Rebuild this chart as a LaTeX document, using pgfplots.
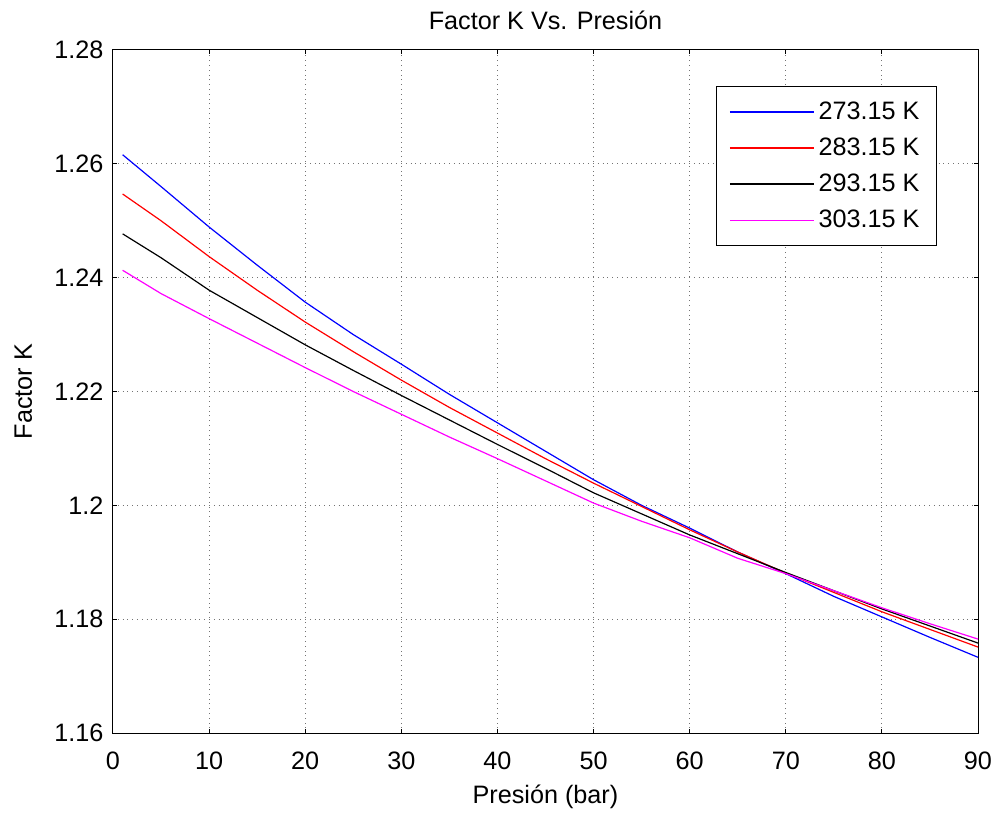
\documentclass[border=0pt]{standalone}
\usepackage{pgfplots}
\pgfplotsset{compat=1.18}
\usepackage{fontspec}
\setmainfont{Liberation Sans}
\definecolor{mblue}{RGB}{0,0,255}
\definecolor{mred}{RGB}{255,0,0}
\definecolor{mmag}{RGB}{255,0,255}
\begin{document}
\begin{tikzpicture}
\begin{axis}[
  scale only axis,
  width=432.5pt, height=341.5pt,
  xmin=0, xmax=90, ymin=1.16, ymax=1.28,
  xtick={0,10,...,90},
  ytick={1.16,1.18,1.2,1.22,1.24,1.26,1.28},
  scaled y ticks=false,
  yticklabel style={/pgf/number format/fixed, /pgf/number format/precision=2, xshift=-1.3pt},
  xticklabel style={anchor=base, yshift=-18pt},
  /pgf/number format/assume math mode=true,
  tick label style={font=\fontsize{12.6}{14}\selectfont, black},
  tick align=inside,
  major tick length=2pt,
  tick style={black, line width=0.5pt},
  axis line style={black, line width=0.5pt},
  grid=major,
  major grid style={black!55, dotted, line width=0.5pt},
  every axis title shift=0pt,
  title={Factor K Vs. Presión},
  title style={font=\fontsize{12.6}{14}\selectfont, at={(axis description cs:0.5,1)}, yshift=10pt, anchor=base},
  xlabel={Presión (bar)},
  xlabel style={font=\fontsize{12.6}{14}\selectfont, at={(axis description cs:0.5,0)}, yshift=-35pt, anchor=base},
  ylabel={Factor K},
  ylabel style={font=\fontsize{12.6}{14}\selectfont, at={(axis description cs:0,0.5)}, yshift=40.5pt, anchor=base},
  legend style={at={(1,1)}, anchor=north east, xshift=-20.5pt, yshift=-18pt,
    font=\fontsize{12.6}{14}\selectfont, draw=black, line width=0.5pt,
    row sep=3.8pt, inner xsep=6.5pt, inner ysep=5.5pt, cells={anchor=west}},
  legend image code/.code={\draw[#1, line width=0.8pt] (0cm,0cm) -- (42pt,0cm);},
  every axis plot/.append style={line width=0.6pt},
]
\addplot[mblue] coordinates {
(1,1.2616) (5,1.2560) (10,1.2489) (15,1.2422) (20,1.2357) (25,1.2300) (30,1.2248)
(35,1.2195) (40,1.2145) (45,1.2095) (50,1.2045) (55,1.2000) (60,1.1960) (65,1.1918)
(70,1.1880) (75,1.1840) (80,1.1804) (85,1.1768) (90,1.1733)};
\addlegendentry{273.15 K}
\addplot[mred] coordinates {
(1,1.2547) (5,1.2500) (10,1.2437) (15,1.2378) (20,1.2322) (25,1.2270) (30,1.2220)
(35,1.2172) (40,1.2127) (45,1.2082) (50,1.2039) (55,1.1998) (60,1.1957) (65,1.1918)
(70,1.1881) (75,1.1847) (80,1.1813) (85,1.1782) (90,1.1751)};
\addlegendentry{283.15 K}
\addplot[black] coordinates {
(1,1.2477) (5,1.2435) (10,1.2378) (15,1.2330) (20,1.2282) (25,1.2237) (30,1.2193)
(35,1.2150) (40,1.2107) (45,1.2065) (50,1.2022) (55,1.1985) (60,1.1948) (65,1.1915)
(70,1.1882) (75,1.1850) (80,1.1818) (85,1.1788) (90,1.1758)};
\addlegendentry{293.15 K}
\addplot[mmag] coordinates {
(1,1.2413) (5,1.2372) (10,1.2328) (15,1.2285) (20,1.2242) (25,1.2200) (30,1.2160)
(35,1.2120) (40,1.2082) (45,1.2043) (50,1.2004) (55,1.1972) (60,1.1943) (65,1.1907)
(70,1.1880) (75,1.1850) (80,1.1820) (85,1.1792) (90,1.1765)};
\addlegendentry{303.15 K}
\end{axis}
\pgfresetboundingbox
\path ([shift={(-56.5pt,-39.5pt)}]current axis.south west) rectangle ([shift={(10pt,25pt)}]current axis.north east);
\end{tikzpicture}
\end{document}
